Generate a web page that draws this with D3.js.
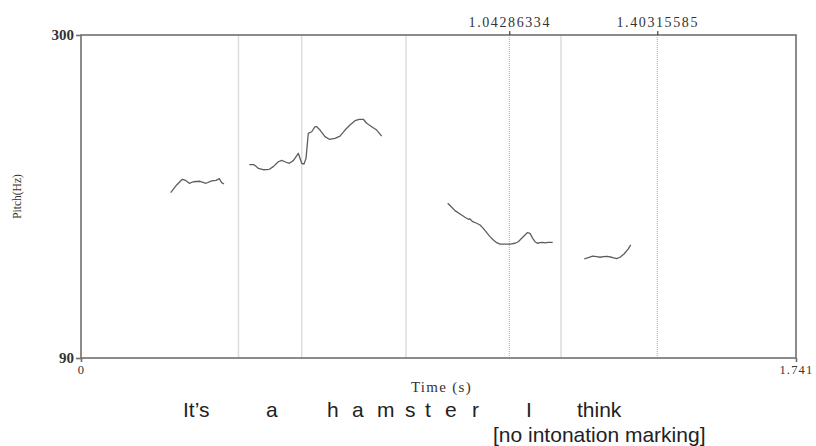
<!DOCTYPE html>
<html>
<head>
<meta charset="utf-8">
<script src="https://cdn.jsdelivr.net/npm/d3@7"></script>
<style>
  html, body { margin: 0; padding: 0; background: #fff; }
  svg { display: block; }
</style>
</head>
<body>
<svg id="chart" width="816" height="446"></svg>
<script>
// Pitch track of "It's a hamster I think" (time in s, F0 in Hz)
const timeDomain = [0, 1.741];
const pitchDomain = [90, 300];

const seg1Time = [0.2184, 0.2330, 0.2467, 0.2532, 0.2637, 0.2735, 0.2898, 0.3044, 0.3183, 0.3287, 0.3368, 0.3426, 0.3482];
const seg1Hz   = [197.5, 202.5, 206.2, 205.7, 203.6, 204.6, 204.9, 203.6, 205.1, 205.5, 206.6, 204.0, 203.1];

const seg2Time = [0.4098, 0.4213, 0.4317, 0.4439, 0.4585, 0.4683, 0.4804, 0.4887, 0.4967, 0.5072, 0.5170, 0.5291, 0.5374, 0.5430, 0.5479, 0.5535, 0.5618, 0.5698, 0.5739, 0.5820, 0.5941, 0.6046, 0.6185, 0.6307, 0.6428, 0.6550, 0.6672, 0.6777, 0.6874, 0.6957, 0.7079, 0.7200, 0.7322];
const seg2Hz   = [215.7, 215.7, 213.3, 212.4, 212.7, 214.4, 217.6, 218.5, 217.6, 216.6, 218.3, 223.1, 216.6, 216.1, 219.8, 236.1, 237.1, 240.4, 240.4, 238.2, 233.9, 232.2, 232.8, 234.3, 238.2, 241.5, 244.3, 245.2, 245.2, 242.6, 240.4, 238.2, 234.3];

const seg3Time = [0.8929, 0.9027, 0.9107, 0.9229, 0.9350, 0.9431, 0.9472, 0.9538, 0.9635, 0.9716, 0.9796, 0.9879, 0.9959, 1.0040, 1.0122, 1.0203, 1.0324, 1.0446, 1.0568, 1.0648, 1.0731, 1.0811, 1.0867, 1.0933, 1.0999, 1.1055, 1.1111, 1.1177, 1.1243, 1.1298, 1.1379, 1.1486];
const seg3Hz   = [190.6, 188.0, 185.8, 183.6, 181.5, 180.2, 180.4, 178.6, 177.6, 176.5, 174.3, 171.5, 168.9, 166.7, 165.0, 164.1, 164.1, 164.1, 164.6, 165.6, 167.8, 170.0, 171.5, 171.1, 167.8, 165.6, 164.6, 165.0, 165.2, 164.8, 165.2, 165.2];

const seg4Time = [1.2255, 1.2353, 1.2460, 1.2557, 1.2638, 1.2718, 1.2815, 1.2923, 1.3044, 1.3125, 1.3222, 1.3327, 1.3385];
const seg4Hz   = [154.4, 155.2, 156.3, 155.9, 155.5, 155.9, 156.1, 155.5, 154.6, 155.5, 157.6, 160.9, 163.5];

// Interval boundaries (solid) and marked points (dotted, labelled)
const boundaryTimes = [0.3835, 0.5374, 0.7914, 1.1688];
const markTimes = [1.04286334, 1.40315585];
const markLabels = ["1.04286334", "1.40315585"];

// Axis tick labels
const yTickValues = [90, 300];
const xTickValues = [0, 1.741];
const xTickLabels = ["0", "1.741"];

// Transcript tokens below the plot
const words = ["It\u2019s", "a", "h", "a", "m", "s", "t", "e", "r", "I", "think"];
const note = "[no intonation marking]";

const svg = d3.select("#chart");
const margin = { left: 81, top: 35, right: 20, bottom: 88 };
const W = 816, H = 446;

const x = d3.scaleLinear().domain(timeDomain).range([margin.left, W - margin.right]);
const y = d3.scaleLinear().domain(pitchDomain).range([H - margin.bottom, margin.top]);

const frameColor = "#6f6f6f";
const serif = "'Liberation Serif', 'DejaVu Serif', serif";
const sans = "'Liberation Sans', Arial, sans-serif";

// boundaries
svg.append("g").selectAll("line").data(boundaryTimes).join("line")
  .attr("x1", d => x(d)).attr("x2", d => x(d))
  .attr("y1", y(pitchDomain[1])).attr("y2", y(pitchDomain[0]))
  .attr("stroke", "#dcdcdc").attr("stroke-width", 1.5);

svg.append("g").selectAll("line").data(markTimes).join("line")
  .attr("x1", d => x(d)).attr("x2", d => x(d))
  .attr("y1", y(pitchDomain[1])).attr("y2", y(pitchDomain[0]))
  .attr("stroke", "#a5a5a5").attr("stroke-width", 1)
  .attr("stroke-dasharray", "1,1");

// pitch contours
const segments = [
  d3.zip(seg1Time, seg1Hz),
  d3.zip(seg2Time, seg2Hz),
  d3.zip(seg3Time, seg3Hz),
  d3.zip(seg4Time, seg4Hz)
];
const line = d3.line().x(d => x(d[0])).y(d => y(d[1]));
svg.append("g").selectAll("path").data(segments).join("path")
  .attr("d", line)
  .attr("fill", "none")
  .attr("stroke", "#5e5e5e")
  .attr("stroke-width", 1.3)
  .attr("stroke-linejoin", "round");

// frame
svg.append("rect")
  .attr("x", x(timeDomain[0])).attr("y", y(pitchDomain[1]))
  .attr("width", x(timeDomain[1]) - x(timeDomain[0]))
  .attr("height", y(pitchDomain[0]) - y(pitchDomain[1]))
  .attr("fill", "none").attr("stroke", frameColor).attr("stroke-width", 1.6);

// left axis
const yAxis = d3.axisLeft(y).tickValues(yTickValues).tickSize(5).tickPadding(2).tickFormat(d3.format("d"));
const gy = svg.append("g").attr("transform", `translate(${x(timeDomain[0])},0)`).call(yAxis);
gy.select(".domain").remove();
gy.selectAll(".tick line").attr("stroke", frameColor).attr("stroke-width", 1.6);
gy.selectAll(".tick text").attr("font-family", serif).attr("font-size", 15)
  .attr("fill", "#333").attr("font-weight", "bold").attr("dy", "0.32em");

// bottom axis
const xAxis = d3.axisBottom(x).tickValues(xTickValues).tickSize(4).tickPadding(3)
  .tickFormat((d, i) => xTickLabels[i]);
const gx = svg.append("g").attr("transform", `translate(0,${y(pitchDomain[0])})`).call(xAxis);
gx.select(".domain").remove();
gx.selectAll(".tick line").attr("stroke", frameColor).attr("stroke-width", 1.6);
gx.selectAll(".tick text").attr("font-family", serif).attr("font-size", 12.5)
  .attr("fill", "#333").attr("letter-spacing", 1.2);
gx.selectAll(".tick text").filter((d, i) => i === 1).attr("text-anchor", "end").attr("dx", 17);

// top axis with marked points
const tAxis = d3.axisTop(x).tickValues(markTimes).tickSize(4).tickPadding(4)
  .tickFormat((d, i) => markLabels[i]);
const gt = svg.append("g").attr("transform", `translate(0,${y(pitchDomain[1])})`).call(tAxis);
gt.select(".domain").remove();
gt.selectAll(".tick line").attr("stroke", "#444").attr("stroke-width", 1.2);
gt.selectAll(".tick text").attr("font-family", serif).attr("font-size", 14)
  .attr("fill", "#333").attr("letter-spacing", 1.6);

// axis titles
svg.append("text")
  .attr("x", 441.5)
  .attr("y", 391.5)
  .attr("text-anchor", "middle")
  .attr("font-family", serif).attr("font-size", 15).attr("fill", "#333")
  .attr("letter-spacing", 1.3)
  .text("Time (s)");

svg.append("text")
  .attr("transform", `translate(21,${(y(pitchDomain[0]) + y(pitchDomain[1])) / 2}) rotate(-90)`)
  .attr("text-anchor", "middle")
  .attr("font-family", serif).attr("font-size", 11.5).attr("fill", "#333")
  .text("Pitch(Hz)");

// transcript line
const wordX = [183, 266, 327, 352, 377, 405, 425, 445, 472, 526, 577];
svg.append("g").selectAll("text").data(words).join("text")
  .attr("x", (d, i) => wordX[i])
  .attr("y", 417)
  .attr("font-family", sans).attr("font-size", 21).attr("fill", "#222")
  .text(d => d);

svg.append("text")
  .attr("x", 493).attr("y", 442)
  .attr("font-family", sans).attr("font-size", 21).attr("fill", "#222")
  .text(note);
</script>
</body>
</html>
